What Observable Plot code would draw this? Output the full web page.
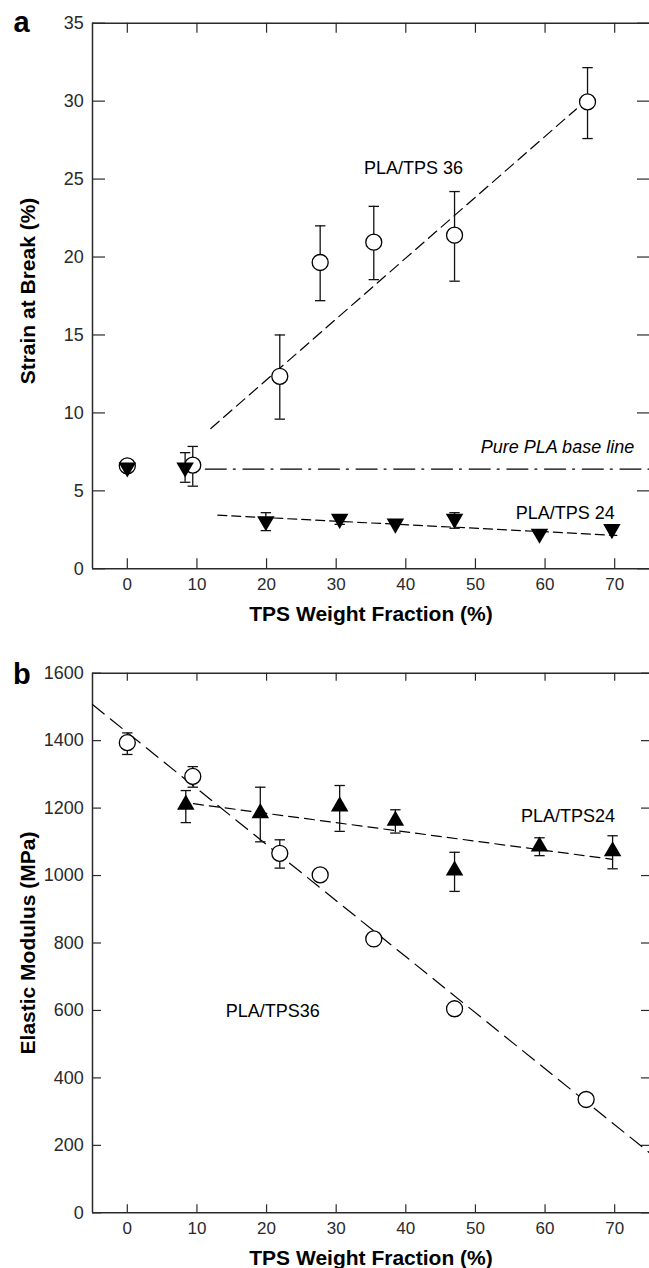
<!DOCTYPE html>
<html>
<head>
<meta charset="utf-8">
<script src="https://cdn.jsdelivr.net/npm/d3@7"></script>
<script src="https://cdn.jsdelivr.net/npm/@observablehq/plot@0.6"></script>
<style>
  html, body { margin: 0; padding: 0; background: #fff; }
  #chart { width: 649px; height: 1268px; position: relative; overflow: hidden; }
  #chart svg { display: block; overflow: visible; }
</style>
</head>
<body>
<div id="chart"></div>
<script>
// ---------- shared axes ----------
const xDomain = [-5, 75];
const xTicks = [0, 10, 20, 30, 40, 50, 60, 70];
const strainDomain = [0, 35];
const strainTicks = [0, 5, 10, 15, 20, 25, 30, 35];
const modulusDomain = [0, 1600];
const modulusTicks = [0, 200, 400, 600, 800, 1000, 1200, 1400, 1600];

// ---------- panel a : strain at break ----------
const a36X  = [0, 9.4, 21.9, 27.7, 35.4, 47.0, 66.1];
const a36Y  = [6.6, 6.65, 12.35, 19.65, 20.95, 21.4, 29.95];
const a36Lo = [null, 5.3, 9.6, 17.2, 18.55, 18.45, 27.6];
const a36Hi = [null, 7.85, 15.0, 22.0, 23.25, 24.2, 32.15];

const a24X  = [0, 8.3, 19.9, 30.5, 38.5, 47.0, 59.2, 69.6];
const a24Y  = [6.5, 6.5, 3.05, 3.2, 2.9, 3.2, 2.25, 2.55];
const a24Lo = [null, 5.55, 2.45, 2.85, null, 2.6, null, null];
const a24Hi = [null, 7.45, 3.6, 3.45, null, 3.6, null, null];

const a36FitX = [12, 64.5];
const a36FitY = [9.0, 29.5];
const baseFitX = [11.2, 75];
const baseFitY = [6.4, 6.4];
const a24FitX = [13, 70.3];
const a24FitY = [3.44, 2.14];

const aLabels = ["PLA/TPS 36", "PLA/TPS 24"];
const aLabelX = [41.1, 62.9];
const aLabelY = [25.3, 3.22];
const baseLabel = "Pure PLA base line";
const baseLabelX = 72.8;
const baseLabelY = 7.41;

// ---------- panel b : elastic modulus ----------
const b36X  = [0, 9.4, 21.9, 27.7, 35.4, 47.0, 65.9];
const b36Y  = [1394, 1294, 1066, 1002, 812, 605, 336];
const b36Lo = [1359, 1262, 1022, null, null, null, null];
const b36Hi = [1423, 1323, 1106, null, null, null, null];

const b24X  = [8.4, 19.1, 30.5, 38.5, 47.0, 59.2, 69.7];
const b24Y  = [1210, 1185, 1205, 1163, 1015, 1086, 1072];
const b24Lo = [1157, 1100, 1131, 1126, 953, 1059, 1020];
const b24Hi = [1252, 1262, 1267, 1195, 1069, 1112, 1118];

const b36FitX = [-5, 75];
const b36FitY = [1507, 178];
const b24FitX = [9.5, 69.7];
const b24FitY = [1213, 1048];

const bLabels = ["PLA/TPS24", "PLA/TPS36"];
const bLabelX = [63.3, 20.9];
const bLabelY = [1160, 580];

// ---------- helpers ----------
const rows = (xs, ys, lo, hi) => xs.map((x, i) => ({x, y: ys[i], lo: lo ? lo[i] : null, hi: hi ? hi[i] : null}));
const pts = (xs, ys) => xs.map((x, i) => ({x, y: ys[i]}));
const s3 = Math.sqrt(3);
const triDown = {draw(ctx, size) { const y = Math.sqrt(size / (s3 * 3)); ctx.moveTo(0, 2 * y); ctx.lineTo(-s3 * y, -y); ctx.lineTo(s3 * y, -y); ctx.closePath(); }};
const triUp = {draw(ctx, size) { const y = Math.sqrt(size / (s3 * 3)); ctx.moveTo(0, -2 * y); ctx.lineTo(s3 * y, y); ctx.lineTo(-s3 * y, y); ctx.closePath(); }};
const capSym = {draw(ctx, size) { const r = Math.sqrt(size / Math.PI); ctx.moveTo(-r, 0); ctx.lineTo(r, 0); }};

const FONT = "'Liberation Sans', Arial, Helvetica, sans-serif";
const AX = "#2a2a2a";
const W = 649, ML = 92, MR = 0;
const FW = W - ML - MR;

function errorMarks(data) {
  const d = data.filter(r => r.lo != null && r.hi != null);
  return [
    Plot.ruleX(d, {x: "x", y1: "lo", y2: "hi", stroke: "#111", strokeWidth: 1.3}),
    Plot.dot(d, {x: "x", y: "lo", symbol: capSym, r: 5.2, stroke: "#111", strokeWidth: 1.3}),
    Plot.dot(d, {x: "x", y: "hi", symbol: capSym, r: 5.2, stroke: "#111", strokeWidth: 1.3})
  ];
}

// frame lines, inward ticks on all four sides, labels on bottom and left
function frameAndAxes(yDomain, yTicks, t, fh) {
  const tk = {stroke: AX, strokeWidth: 1.2};
  return [
    Plot.tickX(xTicks, {x: d => d, insetTop: fh - t.bottom, ...tk}),
    Plot.tickX(xTicks, {x: d => d, insetBottom: fh - t.top, ...tk}),
    Plot.tickY(yTicks, {y: d => d, insetRight: FW - t.left, ...tk}),
    Plot.tickY(yTicks, {y: d => d, insetLeft: FW - t.right, ...tk}),
    Plot.ruleX([xDomain[0]], {stroke: AX, strokeWidth: 1.5}),
    Plot.ruleY([yDomain[0], yDomain[1]], {stroke: AX, strokeWidth: 1.5}),
    Plot.axisX(xTicks, {anchor: "bottom", tickSize: 0, tickPadding: 9.6, fontSize: 17, color: AX, label: null}),
    Plot.axisY(yTicks, {anchor: "left", tickSize: 0, tickPadding: 8.7, fontSize: 18, tickFormat: "d", color: AX, label: null})
  ];
}

// ---------- panel a ----------
const a36 = rows(a36X, a36Y, a36Lo, a36Hi);
const a24 = rows(a24X, a24Y, a24Lo, a24Hi);
const HA = 640, MTA = 22.7, MBA = 71.7;

const plotA = Plot.plot({
  width: W, height: HA,
  marginLeft: ML, marginRight: MR, marginTop: MTA, marginBottom: MBA,
  style: {fontFamily: FONT, fontSize: "17px", background: "white", color: "#000"},
  x: {domain: xDomain},
  y: {domain: strainDomain},
  marks: [
    ...frameAndAxes(strainDomain, strainTicks, {bottom: 10, top: 10, left: 13, right: 12}, HA - MTA - MBA),
    Plot.line(pts(a36FitX, a36FitY), {x: "x", y: "y", stroke: "#000", strokeWidth: 1.2, strokeDasharray: "11,6"}),
    Plot.line(pts(baseFitX, baseFitY), {x: "x", y: "y", stroke: "#000", strokeWidth: 1.3, strokeDasharray: "21,7,2,7.7"}),
    Plot.line(pts(a24FitX, a24FitY), {x: "x", y: "y", stroke: "#000", strokeWidth: 1.2, strokeDasharray: "9,5"}),
    ...errorMarks(a36),
    Plot.dot(a36, {x: "x", y: "y", r: 8, fill: "white", stroke: "#000", strokeWidth: 1.3}),
    ...errorMarks(a24),
    Plot.dot(a24, {x: "x", y: "y", r: 6.5, symbol: triDown, fill: "#000", stroke: "none"}),
    Plot.text(aLabels, {x: (d, i) => aLabelX[i], y: (d, i) => aLabelY[i], textAnchor: "middle", lineAnchor: "bottom", fontSize: 18}),
    Plot.text([baseLabel], {x: () => baseLabelX, y: () => baseLabelY, textAnchor: "end", lineAnchor: "bottom", fontSize: 18, fontStyle: "italic"}),
    Plot.text(["Strain at Break (%)"], {frameAnchor: "left", rotate: -90, dx: -58, dy: -5, textAnchor: "middle", lineAnchor: "bottom", fontSize: 21, fontWeight: "bold"}),
    Plot.text(["TPS Weight Fraction (%)"], {frameAnchor: "bottom", dy: 51.7, textAnchor: "middle", lineAnchor: "bottom", fontSize: 21, fontWeight: "bold"}),
    Plot.text(["a"], {frameAnchor: "top-left", dx: -79, dy: 8.3, textAnchor: "start", lineAnchor: "bottom", fontSize: 29, fontWeight: "bold"})
  ]
});

// ---------- panel b ----------
const b36 = rows(b36X, b36Y, b36Lo, b36Hi);
const b24 = rows(b24X, b24Y, b24Lo, b24Hi);
const HB = 628, MTB = 32.7, MBB = 55.7;

const plotB = Plot.plot({
  width: W, height: HB,
  marginLeft: ML, marginRight: MR, marginTop: MTB, marginBottom: MBB,
  style: {fontFamily: FONT, fontSize: "17px", background: "white", color: "#000"},
  x: {domain: xDomain},
  y: {domain: modulusDomain},
  marks: [
    ...frameAndAxes(modulusDomain, modulusTicks, {bottom: 8, top: 8, left: 9, right: 8}, HB - MTB - MBB),
    Plot.line(pts(b36FitX, b36FitY), {x: "x", y: "y", stroke: "#000", strokeWidth: 1.2, strokeDasharray: "15,8"}),
    Plot.line(pts(b24FitX, b24FitY), {x: "x", y: "y", stroke: "#000", strokeWidth: 1.2, strokeDasharray: "10,6"}),
    ...errorMarks(b36),
    Plot.dot(b36, {x: "x", y: "y", r: 8, fill: "white", stroke: "#000", strokeWidth: 1.3}),
    ...errorMarks(b24),
    Plot.dot(b24, {x: "x", y: "y", r: 6.5, symbol: triUp, fill: "#000", stroke: "none"}),
    Plot.text(bLabels, {x: (d, i) => bLabelX[i], y: (d, i) => bLabelY[i], textAnchor: "middle", lineAnchor: "bottom", fontSize: 18}),
    Plot.text(["Elastic Modulus (MPa)"], {frameAnchor: "left", rotate: -90, dx: -58, textAnchor: "middle", lineAnchor: "bottom", fontSize: 21, fontWeight: "bold"}),
    Plot.text(["TPS Weight Fraction (%)"], {frameAnchor: "bottom", dy: 52.5, textAnchor: "middle", lineAnchor: "bottom", fontSize: 21, fontWeight: "bold"}),
    Plot.text(["b"], {frameAnchor: "top-left", dx: -79.6, dy: 11, textAnchor: "start", lineAnchor: "bottom", fontSize: 29, fontWeight: "bold"})
  ]
});

const chart = document.getElementById("chart");
chart.appendChild(plotA);
chart.appendChild(plotB);
</script>
</body>
</html>
